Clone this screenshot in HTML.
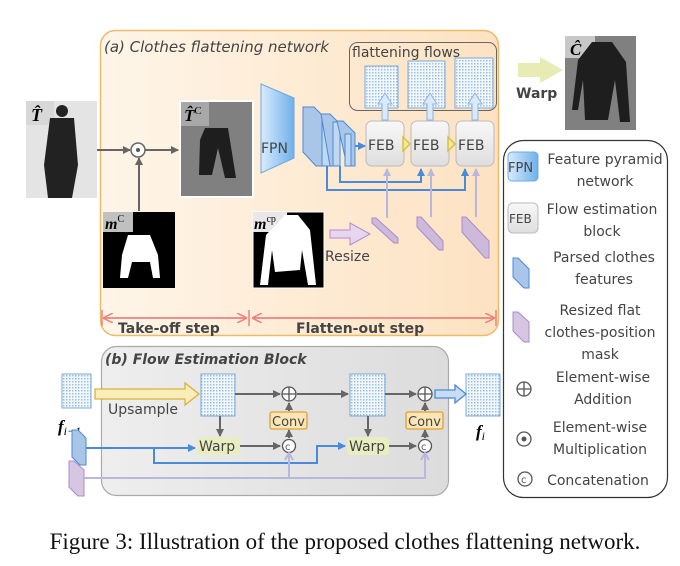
<!DOCTYPE html>
<html><head><meta charset="utf-8"><style>
body{margin:0;background:#fff}
svg{display:block}
.c{font-family:"DejaVu Sans",sans-serif;fill:#444}
</style></head><body>
<svg width="680" height="566" viewBox="0 0 680 566" xmlns="http://www.w3.org/2000/svg">
<defs>
<linearGradient id="og" x1="0" x2="1"><stop offset="0" stop-color="#fef5e8"/><stop offset="1" stop-color="#fde2c2"/></linearGradient>
<linearGradient id="gg" x1="0" x2="1"><stop offset="0" stop-color="#eeeeee"/><stop offset="1" stop-color="#dcdcdc"/></linearGradient>
<linearGradient id="fpn" x1="0" x2="1"><stop offset="0" stop-color="#d8ecfc"/><stop offset="1" stop-color="#6fb0ea"/></linearGradient>
<linearGradient id="feb" x1="0" y1="0" x2="0" y2="1"><stop offset="0" stop-color="#f8f8f8"/><stop offset="1" stop-color="#dedede"/></linearGradient>
<pattern id="fl" width="3" height="3" patternUnits="userSpaceOnUse"><rect width="3" height="3" fill="#f2f7fc"/><rect width="1.5" height="1.5" fill="#9cc0e4"/></pattern>
<marker id="ag" markerWidth="8" markerHeight="8" refX="7" refY="4" orient="auto" markerUnits="userSpaceOnUse"><path d="M0,0L8,4L0,8Z" fill="#666"/></marker>
<marker id="ab" markerWidth="8" markerHeight="8" refX="7" refY="4" orient="auto" markerUnits="userSpaceOnUse"><path d="M0,0L8,4L0,8Z" fill="#4a8ad8"/></marker>
<marker id="ap" markerWidth="8" markerHeight="8" refX="7" refY="4" orient="auto" markerUnits="userSpaceOnUse"><path d="M0,0L8,4L0,8Z" fill="#b8b8dc"/></marker>
<marker id="ar" markerWidth="10" markerHeight="10" refX="9" refY="5" orient="auto" markerUnits="userSpaceOnUse"><path d="M0,0L10,5L0,10" fill="none" stroke="#f08080" stroke-width="1.5"/></marker>
</defs>

<rect x="100.5" y="30.5" width="398" height="305" rx="15" fill="url(#og)" stroke="#ebbb6a" stroke-width="1.5"/>
<text x="104" y="52" class="c" font-size="15" font-style="italic">(a) Clothes flattening network</text>
<rect x="349.5" y="42.5" width="147" height="68" rx="8" fill="none" stroke="#666"/>
<text x="352" y="57" class="c" font-size="14" fill="#333">flattening flows</text>
<rect x="365" y="66" width="33" height="42" fill="url(#fl)" stroke="#7aa8d8"/>
<rect x="408" y="61" width="37" height="47" fill="url(#fl)" stroke="#7aa8d8"/>
<rect x="455" y="58" width="38" height="50" fill="url(#fl)" stroke="#7aa8d8"/>

<rect x="26" y="101" width="71" height="97" fill="#e4e4e4"/>
<rect x="26" y="101" width="28" height="24" fill="#d8d8d8"/>
<text x="31" y="121" font-family="Liberation Serif,serif" font-size="18" font-weight="bold" font-style="italic">T̂</text>
<circle cx="62" cy="111" r="6" fill="#222"/>
<path d="M50,118 L74,118 L78,165 L72,198 L48,198 L44,165Z" fill="#222"/>

<path d="M97,150 H130" stroke="#666" stroke-width="2" marker-end="url(#ag)"/>
<circle cx="138" cy="150" r="7" fill="#fff" stroke="#666" stroke-width="1.5"/><circle cx="138" cy="150" r="2" fill="#555"/>
<path d="M145,150 H178" stroke="#666" stroke-width="2" marker-end="url(#ag)"/>
<path d="M139,211 V158" stroke="#666" stroke-width="2" marker-end="url(#ag)"/>

<rect x="180" y="101" width="73" height="96" fill="#808080" stroke="#fff" stroke-width="2"/>
<rect x="181" y="102" width="28" height="24" fill="#a8a8a8"/>
<text x="184" y="121" font-family="Liberation Serif,serif" font-size="17" font-weight="bold" font-style="italic">T̂<tspan font-size="11" font-style="normal" font-weight="normal" dy="-7">C</tspan></text>
<path d="M205,128 L228,128 L236,178 L225,178 L218,148 L212,175 L199,175 L200,140Z" fill="#1e1e1e"/>

<rect x="103" y="212" width="72" height="76" fill="#000"/>
<rect x="103" y="212" width="30" height="20" fill="#c0c0c0"/>
<text x="105" y="229" font-family="Liberation Serif,serif" font-size="16" font-weight="bold" font-style="italic">m<tspan font-size="10" font-style="normal" font-weight="normal" dy="-7">C</tspan></text>
<path d="M128,235 L150,235 L158,255 L160,278 L153,278 L150,262 L132,262 L128,278 L120,278 L122,255Z" fill="#fff"/>

<path d="M261,84 L294,98 L294,158 L261,173Z" fill="url(#fpn)" stroke="#6fa8e0"/>
<text x="261" y="153" class="c" font-size="14" fill="#444">FPN</text>

<g fill="#a9c6e8" stroke="#4a8ad8">
<path d="M303,107 L314,107 L327,120 L327,166 L316,166 L303,152Z"/>
<rect x="322" y="120" width="8" height="46" fill="#c0d8f2"/>
<path d="M321,114 L330,114 L338,122 L338,166 L330,166 Z"/>
<rect x="333" y="122" width="7" height="44" fill="#c0d8f2"/>
<path d="M337,121 L343,121 L355,133 L355,166 L347,166Z"/>
<rect x="345" y="134" width="6" height="32" fill="#c0d8f2"/>
</g>
<path d="M355,146 H365" stroke="#4a8ad8" stroke-width="2" marker-end="url(#ab)"/>

<g stroke="#bbb" fill="url(#feb)">
<rect x="366" y="121" width="38" height="45" rx="6"/>
<rect x="411" y="121" width="38" height="45" rx="6"/>
<rect x="456" y="121" width="38" height="45" rx="6"/>
</g>
<g class="c" font-size="14" fill="#444"><text x="368" y="150">FEB</text><text x="413" y="150">FEB</text><text x="458" y="150">FEB</text></g>
<path d="M403,137 L410,144 L403,151Z M448,137 L455,144 L448,151Z" fill="#f2e6a0" stroke="#dcc040" stroke-width="1.5"/>
<g fill="#dbe9fa" stroke="#8ab4e4">
<path d="M382,120 V104 H378 L385,93 L392,104 H388 V120Z"/>
<path d="M427,120 V104 H423 L430,93 L437,104 H433 V120Z"/>
<path d="M472,120 V104 H468 L475,93 L482,104 H478 V120Z"/>
</g>
<path d="M327,166 V190 H465 V169" stroke="#4a8ad8" stroke-width="2" fill="none" marker-end="url(#ab)"/>
<path d="M340,166 V182 H421 V169" stroke="#4a8ad8" stroke-width="2" fill="none" marker-end="url(#ab)"/>
<g stroke="#b8b8dc" stroke-width="2" fill="none">
<path d="M387,218 V169" marker-end="url(#ap)"/>
<path d="M431,217 V169" marker-end="url(#ap)"/>
<path d="M476,217 V169" marker-end="url(#ap)"/>
</g>

<rect x="253" y="212" width="71" height="76" fill="#000" stroke="#fff"/>
<rect x="253" y="212" width="34" height="20" fill="#e8e8e8"/>
<text x="254" y="229" font-family="Liberation Serif,serif" font-size="16" font-weight="bold" font-style="italic">m<tspan font-size="10" font-style="normal" font-weight="normal" dy="-7">cp</tspan></text>
<path d="M285,215 L298,215 L310,230 L316,285 L308,285 L302,250 L300,270 L275,272 L272,250 L268,285 L260,285 L266,235Z" fill="#fff"/>

<path d="M330,230 H350 V223 L370,234 L350,245 V238 H330Z" fill="#e6d6f0" stroke="#b58ccd"/>
<text x="325" y="261" class="c" font-size="14" fill="#555">Resize</text>
<g fill="#cdbada" stroke="#a98ccc">
<path d="M372,218 L376,218 L398,238 L398,243 L394,243 L372,223Z"/>
<path d="M417,217 L421,217 L443,241 L443,250 L439,250 L417,227Z"/>
<path d="M462,217 L466,217 L489,241 L489,258 L485,258 L462,232Z"/>
</g>

<path d="M103,318 H246" stroke="#f08080" stroke-width="1.5" marker-end="url(#ar)"/>
<path d="M246,318 H104" stroke="#f08080" stroke-width="1.5" marker-end="url(#ar)"/>
<path d="M252,318 H494" stroke="#f08080" stroke-width="1.5" marker-end="url(#ar)"/>
<path d="M494,318 H253" stroke="#f08080" stroke-width="1.5" marker-end="url(#ar)"/>
<path d="M102,310V326 M249,310V326 M496,310V326" stroke="#f08080" stroke-width="1.5"/>
<text x="118" y="333" class="c" font-size="14" font-weight="bold" fill="#6b2020">Take-off step</text>
<text x="296" y="333" class="c" font-size="14" font-weight="bold" fill="#6b2020">Flatten-out step</text>

<path d="M518,63 H540 V57 L563,70 L540,83 V77 H518Z" fill="#e6ecb4"/>
<text x="516" y="98" class="c" font-size="14" font-weight="bold" fill="#555">Warp</text>
<rect x="565" y="36" width="71" height="94" fill="#808080"/>
<rect x="565" y="36" width="30" height="22" fill="#c8c8c8"/>
<text x="570" y="55" font-family="Liberation Serif,serif" font-size="17" font-weight="bold" font-style="italic">Ĉ</text>
<path d="M592,42 L612,42 L626,62 L630,122 L620,122 L615,80 L608,120 L585,120 L583,80 L578,110 L572,110 L578,60Z" fill="#1e1e1e"/>

<rect x="503.5" y="140.5" width="164" height="357" rx="20" fill="#fff" stroke="#333" stroke-width="1.2"/>
<rect x="508" y="152" width="30" height="29" rx="4" fill="url(#fpn)" stroke="#6fa8e0"/>
<text x="508" y="172" class="c" font-size="13" fill="#444">FPN</text>
<g class="c" font-size="14" fill="#444" text-anchor="middle">
<text x="605" y="164">Feature pyramid</text><text x="605" y="186">network</text>
<text x="602" y="214">Flow estimation</text><text x="602" y="236">block</text>
<text x="604" y="262">Parsed clothes</text><text x="604" y="284">features</text>
<text x="600" y="315">Resized flat</text><text x="600" y="337">clothes-position</text><text x="600" y="359">mask</text>
<text x="603" y="382">Element-wise</text><text x="603" y="404">Addition</text>
<text x="600" y="432">Element-wise</text><text x="600" y="454">Multiplication</text>
<text x="598" y="485">Concatenation</text>
</g>
<rect x="508" y="203" width="30" height="30" rx="5" fill="url(#feb)" stroke="#bbb"/>
<text x="509" y="223" class="c" font-size="12" fill="#444">FEB</text>
<path d="M513,258 L518,258 L529,269 L529,288 L524,288 L513,277Z" fill="#a9c6e8" stroke="#4a8ad8"/>
<path d="M513,312 L518,312 L529,322 L529,342 L524,342 L513,331Z" fill="#d6c6e2" stroke="#a98ccc"/>
<circle cx="524" cy="389" r="7" fill="none" stroke="#555" stroke-width="1.3"/><path d="M517,389H531M524,382V396" stroke="#555" stroke-width="1.3"/>
<circle cx="524" cy="439" r="7" fill="none" stroke="#555" stroke-width="1.3"/><circle cx="524" cy="439" r="2.5" fill="#555"/>
<circle cx="525" cy="479" r="7" fill="none" stroke="#555" stroke-width="1.3"/><text x="521" y="483" font-family="DejaVu Sans" font-size="10" fill="#555">c</text>

<rect x="101.5" y="346.5" width="347" height="149" rx="15" fill="url(#gg)" stroke="#aaa" stroke-width="1.2"/>
<text x="105" y="364" class="c" font-size="14" font-style="italic" font-weight="bold" fill="#555">(b) Flow Estimation Block</text>

<rect x="62" y="374" width="29" height="34" fill="url(#fl)" stroke="#7aa8d8"/>
<text x="58" y="432" font-family="Liberation Serif,serif" font-size="17" font-weight="bold" font-style="italic">f<tspan font-size="12" font-weight="normal" dy="3">i−1</tspan></text>
<path d="M95,389 H185 V383 L199,394 L185,405 V399 H95Z" fill="#f8eeb8" stroke="#dcb040" stroke-width="1.3"/>
<text x="108" y="414" class="c" font-size="14" fill="#f08a20">Upsample</text>

<rect x="201" y="374" width="34" height="42" fill="url(#fl)" stroke="#7aa8d8"/>
<rect x="350" y="374" width="35" height="42" fill="url(#fl)" stroke="#7aa8d8"/>
<rect x="466" y="374" width="34" height="42" fill="url(#fl)" stroke="#7aa8d8"/>
<text x="476" y="437" font-family="Liberation Serif,serif" font-size="17" font-weight="bold" font-style="italic">f<tspan font-size="12" font-weight="normal" dy="3">i</tspan></text>

<g stroke="#666" stroke-width="2" fill="none">
<path d="M235,394 H280" marker-end="url(#ag)"/>
<path d="M297,394 H348" marker-end="url(#ag)"/>
<path d="M385,394 H416" marker-end="url(#ag)"/>
<path d="M220,416 V436" marker-end="url(#ag)"/>
<path d="M368,416 V436" marker-end="url(#ag)"/>
<path d="M240,446 H280" marker-end="url(#ag)"/>
<path d="M388,446 H416" marker-end="url(#ag)"/>
<path d="M289,438 V430" marker-end="url(#ag)"/>
<path d="M289,411 V403" marker-end="url(#ag)"/>
<path d="M425,438 V430" marker-end="url(#ag)"/>
<path d="M425,411 V403" marker-end="url(#ag)"/>
</g>
<g fill="#fff" stroke="#555" stroke-width="1.3">
<circle cx="289" cy="394" r="7"/><circle cx="425" cy="394" r="7"/>
<circle cx="289" cy="446" r="6.5"/><circle cx="425" cy="446" r="6.5"/>
</g>
<path d="M282,394H296M289,387V401M418,394H432M425,387V401" stroke="#555" stroke-width="1.3"/>
<text x="285" y="450" font-family="DejaVu Sans" font-size="10" fill="#555">c</text>
<text x="421" y="450" font-family="DejaVu Sans" font-size="10" fill="#555">c</text>
<path d="M435,390 H455 V385 L466,394 L455,403 V398 H435Z" fill="#c8dcf4" stroke="#4a8ad8" stroke-width="1.3"/>

<rect x="270" y="412" width="37" height="17" rx="2" fill="#fce6b8" stroke="#e0a030" stroke-width="1.3"/>
<rect x="406" y="412" width="37" height="17" rx="2" fill="#fce6b8" stroke="#e0a030" stroke-width="1.3"/>
<text x="272" y="426" class="c" font-size="13" fill="#444">Conv</text>
<text x="408" y="426" class="c" font-size="13" fill="#444">Conv</text>
<rect x="197" y="437" width="43" height="18" rx="3" fill="#e8eec0"/>
<rect x="347" y="437" width="42" height="18" rx="3" fill="#e8eec0"/>
<text x="199" y="451" class="c" font-size="14" fill="#444">Warp</text>
<text x="349" y="451" class="c" font-size="14" fill="#444">Warp</text>

<path d="M72,430 L78,430 L86,438 L86,465 L80,465 L72,457Z" fill="#a9c6e8" stroke="#4a8ad8"/>
<path d="M69,461 L74,461 L84,470 L84,496 L78,496 L69,487Z" fill="#d6c6e2" stroke="#a98ccc"/>
<path d="M86,448 H195" stroke="#4a8ad8" stroke-width="2" fill="none" marker-end="url(#ab)"/>
<path d="M154,448 V463 H317 V446 H345" stroke="#4a8ad8" stroke-width="2" fill="none" marker-end="url(#ab)"/>
<path d="M84,478 H425 V455 M289,478 V455" stroke="#b8b8dc" stroke-width="2" fill="none"/>
<path d="M285,460 L289,453 L293,460 M421,460 L425,453 L429,460" stroke="#b8b8dc" stroke-width="2" fill="none"/>

<text x="345" y="549" text-anchor="middle" font-family="Liberation Serif,serif" font-size="23" fill="#111">Figure 3: Illustration of the proposed clothes flattening network.</text>
</svg>
</body></html>
